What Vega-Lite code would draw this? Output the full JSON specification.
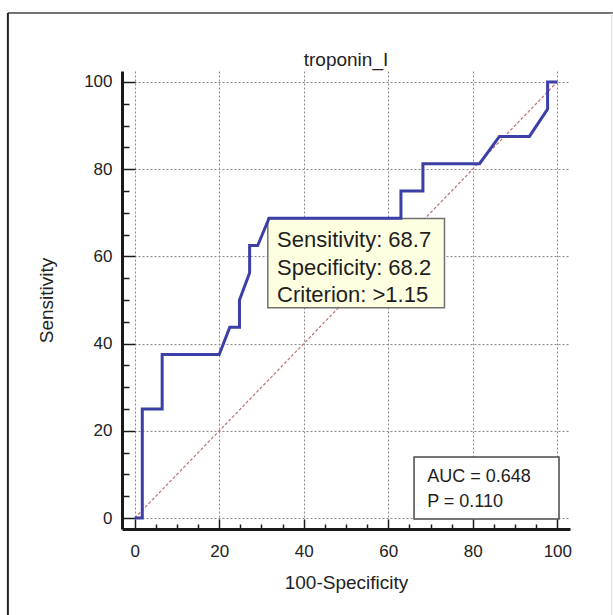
{
  "$schema": "https://vega.github.io/schema/vega-lite/v6.json",
  "width": 448,
  "height": 458,
  "autosize": {"type": "none"},
  "padding": {"left": 122, "top": 71, "right": 43, "bottom": 86},
  "background": "white",
  "config": {"view": {"stroke": null}, "font": "Liberation Sans"},
  "datasets": {
    "roc": [
      {"fpr": 0, "sens": 0},
      {"fpr": 1.8, "sens": 0},
      {"fpr": 1.8, "sens": 25},
      {"fpr": 6.5, "sens": 25},
      {"fpr": 6.5, "sens": 37.5},
      {"fpr": 20, "sens": 37.5},
      {"fpr": 22.5, "sens": 43.75},
      {"fpr": 24.8, "sens": 43.75},
      {"fpr": 24.8, "sens": 50},
      {"fpr": 27.2, "sens": 56.25},
      {"fpr": 27.2, "sens": 62.5},
      {"fpr": 29.1, "sens": 62.5},
      {"fpr": 31.8, "sens": 68.75},
      {"fpr": 63, "sens": 68.75},
      {"fpr": 63, "sens": 75},
      {"fpr": 68.2, "sens": 75},
      {"fpr": 68.2, "sens": 81.25},
      {"fpr": 81.6, "sens": 81.25},
      {"fpr": 86.3, "sens": 87.5},
      {"fpr": 93.4, "sens": 87.5},
      {"fpr": 97.7, "sens": 93.75},
      {"fpr": 97.7, "sens": 100},
      {"fpr": 100, "sens": 100}
    ],
    "diag": [
      {"fpr": 0, "sens": 0},
      {"fpr": 100, "sens": 100}
    ],
    "one": [{"title": "troponin_I"}]
  },
  "layer": [
    {
      "data": {"name": "diag"},
      "mark": {"type": "line", "color": "#c07070", "strokeWidth": 1.2, "strokeDash": [3, 2]},
      "encoding": {
        "x": {"field": "fpr", "type": "quantitative", "scale": {"domain": [-3, 103], "nice": false, "zero": false},
          "axis": {"orient": "bottom", "values": [5, 10, 15, 25, 30, 35, 45, 50, 55, 65, 70, 75, 85, 90, 95], "labels": false, "grid": false, "domain": false, "tickSize": -5, "tickColor": "#1a1a1a", "tickWidth": 1.5, "title": null}},
        "y": {"field": "sens", "type": "quantitative", "scale": {"domain": [-2.5, 102.5], "nice": false, "zero": false},
          "axis": {"orient": "left", "values": [5, 10, 15, 25, 30, 35, 45, 50, 55, 65, 70, 75, 85, 90, 95], "labels": false, "grid": false, "domain": false, "tickSize": -7, "tickColor": "#1a1a1a", "tickWidth": 1.5, "title": null}}
      }
    },
    {
      "data": {"name": "one"},
      "mark": {"type": "rect", "fill": "white", "stroke": "#4a4a4a", "strokeWidth": 1.5},
      "encoding": {
        "x": {"datum": 66.1, "type": "quantitative", "axis": null},
        "x2": {"datum": 100.4},
        "y": {"datum": 14.0, "type": "quantitative", "axis": null},
        "y2": {"datum": -0.2}
      }
    },
    {
      "data": {"name": "one"},
      "mark": {"type": "rect", "fill": "#ffffe1", "stroke": "#707070", "strokeWidth": 1.5},
      "encoding": {
        "x": {"datum": 31.5, "type": "quantitative", "axis": null},
        "x2": {"datum": 73.3},
        "y": {"datum": 68.7, "type": "quantitative", "axis": null},
        "y2": {"datum": 48.2}
      }
    },
    {
      "data": {"name": "roc"},
      "mark": {"type": "line", "color": "#3b3fa6", "strokeWidth": 3, "strokeJoin": "miter"},
      "encoding": {
        "x": {"field": "fpr", "type": "quantitative", "sort": null,
          "axis": {"orient": "bottom", "values": [0, 20, 40, 60, 80, 100], "grid": true, "gridColor": "#8a8a8a", "gridDash": [2, 2], "gridWidth": 1, "domain": true, "domainColor": "#1a1a1a", "domainWidth": 3, "tickSize": -10, "tickColor": "#1a1a1a", "tickWidth": 1.5, "labelFontSize": 17, "labelColor": "#222222", "labelPadding": 24, "labelFont": "Liberation Sans", "title": "100-Specificity", "titleFontSize": 19, "titleFontWeight": "normal", "titleColor": "#222222", "titleFont": "Liberation Sans", "titlePadding": 14}},
        "y": {"field": "sens", "type": "quantitative",
          "axis": {"orient": "left", "values": [0, 20, 40, 60, 80, 100], "grid": true, "gridColor": "#8a8a8a", "gridDash": [2, 2], "gridWidth": 1, "domain": true, "domainColor": "#1a1a1a", "domainWidth": 3, "tickSize": -13, "tickColor": "#1a1a1a", "tickWidth": 1.5, "labelFontSize": 17, "labelColor": "#222222", "labelPadding": 23, "labelFont": "Liberation Sans", "title": "Sensitivity", "titleFontSize": 19, "titleFontWeight": "normal", "titleColor": "#222222", "titleFont": "Liberation Sans", "titlePadding": 27}}
      }
    },
    {
      "data": {"name": "one"},
      "mark": {"type": "text", "align": "left", "baseline": "alphabetic", "fontSize": 22, "lineHeight": 27.5, "color": "#1e1e1e", "font": "Liberation Sans"},
      "encoding": {
        "x": {"datum": 33.7, "type": "quantitative", "axis": null},
        "y": {"datum": 62.15, "type": "quantitative", "axis": null},
        "text": {"value": ["Sensitivity: 68.7", "Specificity: 68.2", "Criterion: >1.15"]}
      }
    },
    {
      "data": {"name": "one"},
      "mark": {"type": "text", "align": "left", "baseline": "alphabetic", "fontSize": 18, "lineHeight": 25, "color": "#1e1e1e", "font": "Liberation Sans"},
      "encoding": {
        "x": {"datum": 69.2, "type": "quantitative", "axis": null},
        "y": {"datum": 8.34, "type": "quantitative", "axis": null},
        "text": {"value": ["AUC = 0.648", "P = 0.110"]}
      }
    },
    {
      "data": {"name": "one"},
      "mark": {"type": "text", "align": "center", "baseline": "alphabetic", "fontSize": 19, "color": "#222222", "font": "Liberation Sans"},
      "encoding": {
        "x": {"datum": 50, "type": "quantitative", "axis": null},
        "y": {"datum": 103.6, "type": "quantitative", "axis": null},
        "text": {"field": "title"}
      }
    },
    {
      "data": {"name": "one"},
      "mark": {"type": "rule", "color": "#444444", "strokeWidth": 1.5},
      "encoding": {
        "x": {"datum": -30, "type": "quantitative", "axis": null},
        "x2": {"datum": 115},
        "y": {"datum": 115.8, "type": "quantitative", "axis": null}
      }
    },
    {
      "data": {"name": "one"},
      "mark": {"type": "rule", "color": "#222222", "strokeWidth": 2},
      "encoding": {
        "x": {"datum": -30, "type": "quantitative", "axis": null},
        "y": {"datum": 115.8, "type": "quantitative", "axis": null},
        "y2": {"datum": -25}
      }
    },
    {
      "data": {"name": "one"},
      "mark": {"type": "rule", "color": "#d8d8d8", "strokeWidth": 1},
      "encoding": {
        "x": {"datum": 112.9, "type": "quantitative", "axis": null},
        "y": {"datum": 115.8, "type": "quantitative", "axis": null},
        "y2": {"datum": -25}
      }
    }
  ],
  "resolve": {"axis": {"x": "independent", "y": "independent"}}
}
